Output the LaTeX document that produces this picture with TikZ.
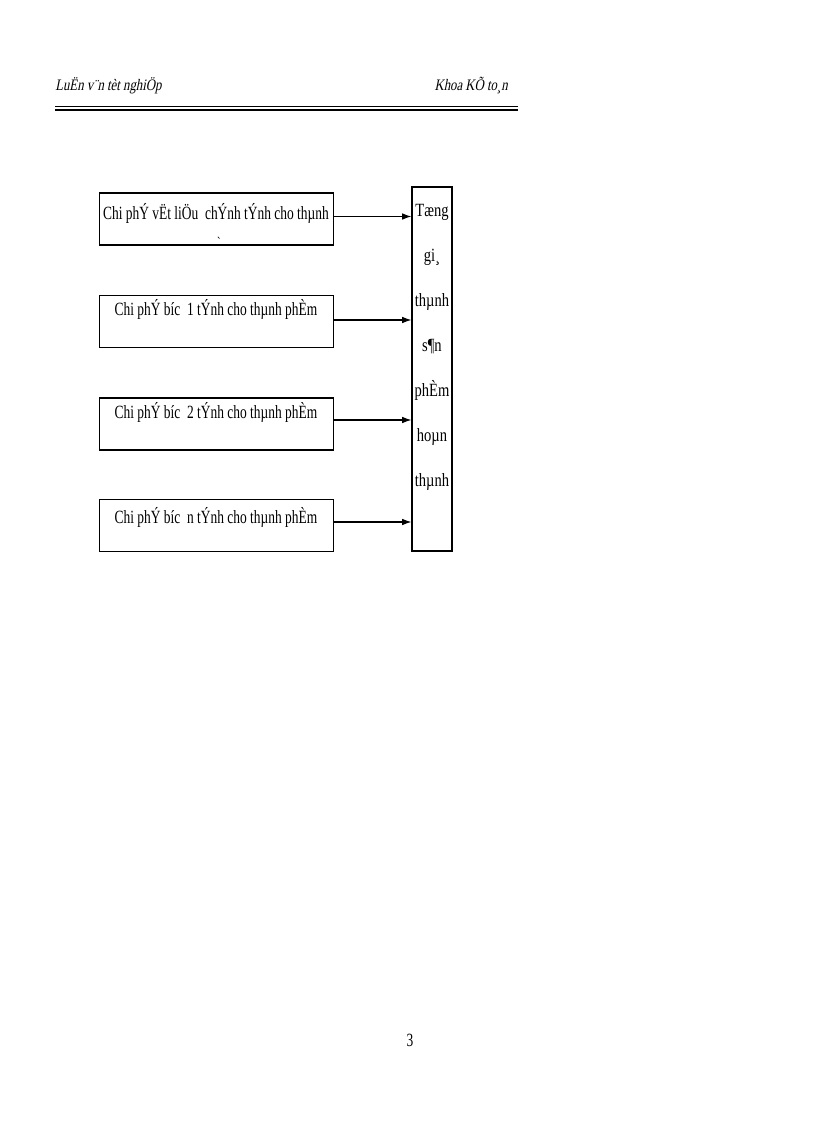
\documentclass[tikz,border=0pt]{standalone}
\usepackage{fontspec}
\setmainfont{Liberation Serif}
\newfontfamily\cond[FakeStretch=0.72]{Liberation Serif}
\newfontfamily\condtall[FakeStretch=0.78]{Liberation Serif}
\newfontfamily\condit[FakeStretch=0.8,FakeSlant=0.2]{Liberation Serif}
\usetikzlibrary{arrows.meta}
\begin{document}
\begin{tikzpicture}[x=0.75pt,y=-0.75pt,
  box/.style={draw,line width=0.9pt,minimum width=176pt,minimum height=39pt,inner sep=0pt},
  tallbox/.style={draw,line width=0.9pt,minimum width=30pt,minimum height=273pt,inner sep=0pt},
  boxtext/.style={font=\cond\fontsize{14}{16}\selectfont,inner sep=0pt},
  hdr/.style={font=\condit\fontsize{12}{14}\selectfont,inner sep=0pt},
  arr/.style={-{Latex[length=7pt,width=5pt]},line width=0.8pt}]
\useasboundingbox (0,0) rectangle (816,1123);
% header
\node[hdr,anchor=base west] (h1) at (55,91) {LuËn v¨n tèt nghiÖp};
\node[hdr,anchor=base east] (h2) at (508,91) {Khoa KÕ to¸n};
\draw[line width=1.2pt] (55,106.5) -- (518,106.5);
\draw[line width=1.2pt] (55,109.8) -- (518,109.8);
% boxes
\node[box] (b1) at (216.5,219) {};
\node[box] (b2) at (216.5,321.5) {};
\node[box] (b3) at (216.5,424) {};
\node[box] (b4) at (216.5,525.5) {};
\node[tallbox] (t) at (432,369) {};
\node[boxtext] (l1) at (216,213) {Chi phÝ vËt liÖu\ \ chÝnh tÝnh cho thµnh};
\node[font=\cond\fontsize{11}{12}\selectfont,inner sep=0pt] (l1b) at (219,242) {`};
\node[boxtext] (l2) at (216,309) {Chi phÝ b­íc\ \ 1 tÝnh cho thµnh phÈm};
\node[boxtext] (l3) at (216,412) {Chi phÝ b­íc\ \ 2 tÝnh cho thµnh phÈm};
\node[boxtext] (l4) at (216,517) {Chi phÝ b­íc\ \ n tÝnh cho thµnh phÈm};
\node[inner sep=0pt,align=center,anchor=north,font=\condtall\fontsize{14}{33.75}\selectfont] (tt) at (432,204) {Tæng\\gi¸\\thµnh\\s¶n\\phÈm\\hoµn\\thµnh};
% arrows
\coordinate (e1) at (t.west |- 0,216.5);
\coordinate (e2) at (t.west |- 0,320);
\coordinate (e3) at (t.west |- 0,420);
\coordinate (e4) at (t.west |- 0,522);
\draw[arr] (b1.east |- e1) -- (e1);
\draw[arr] (b2.east |- e2) -- (e2);
\draw[arr] (b3.east |- e3) -- (e3);
\draw[arr] (b4.east |- e4) -- (e4);
% page number
\node[font=\cond\fontsize{14}{16}\selectfont,inner sep=0pt] (pg) at (410,1040) {3};
\end{tikzpicture}
\end{document}
